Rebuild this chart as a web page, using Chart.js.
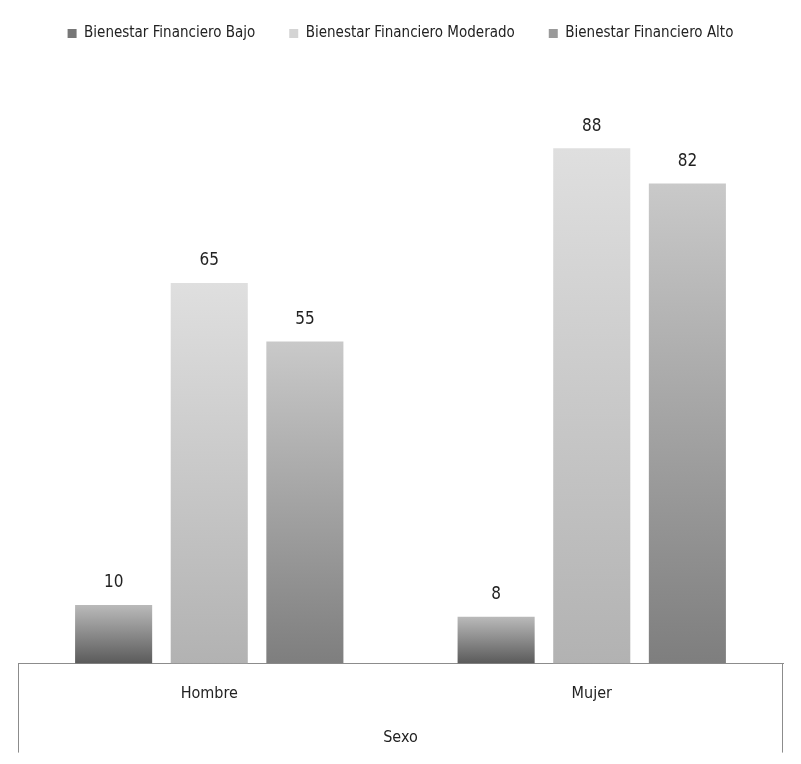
<!DOCTYPE html>
<html>
<head>
<meta charset="utf-8">
<script src="https://cdn.jsdelivr.net/npm/chart.js@4/dist/chart.umd.min.js"></script>
<style>
  html, body { margin:0; padding:0; background:#fff; }
  #wrap { width:801px; height:764px; }
</style>
</head>
<body>
<div id="wrap"><canvas id="chart" width="801" height="764"></canvas></div>
<script>
var categories = ['Hombre', 'Mujer'];
var seriesNames = ['Bienestar Financiero Bajo', 'Bienestar Financiero Moderado', 'Bienestar Financiero Alto'];
var bajo = [10, 8];
var moderado = [65, 88];
var alto = [55, 82];
var axisTitle = 'Sexo';

// top / bottom colour of each series gradient, and legend swatch colour
var gradTop = ['#bababa', '#dfdfdf', '#c9c9c9'];
var gradBot = ['#5a5a5a', '#b2b2b2', '#7e7e7e'];
var swatch = ['#777777', '#d4d4d4', '#9a9a9a'];

var FONT = "'DejaVu Sans Condensed', 'Liberation Sans', sans-serif";

function barFill(i){
  return function(c){
    var chart = c.chart;
    if(!chart.chartArea || c.raw === undefined) return swatch[i];
    var y = chart.scales.y;
    var t = y.getPixelForValue(c.raw), b = y.getPixelForValue(0);
    var g = chart.ctx.createLinearGradient(0, t, 0, b);
    g.addColorStop(0, gradTop[i]);
    g.addColorStop(1, gradBot[i]);
    return g;
  };
}

var valueLabels = {
  id:'valueLabels',
  afterDatasetsDraw: function(chart){
    var ctx = chart.ctx;
    ctx.save();
    ctx.font = '17px ' + FONT;
    ctx.fillStyle = '#222';
    ctx.textAlign = 'center';
    ctx.textBaseline = 'middle';
    chart.data.datasets.forEach(function(ds, i){
      chart.getDatasetMeta(i).data.forEach(function(bar, j){
        ctx.fillText(ds.data[j], bar.x, bar.y - 22);
      });
    });
    ctx.restore();
  }
};

var axisBox = {
  id:'axisBox',
  afterDraw: function(chart){
    var a = chart.chartArea, ctx = chart.ctx;
    ctx.save();
    ctx.strokeStyle = '#8c8c8c';
    ctx.lineWidth = 1;
    ctx.beginPath();
    ctx.moveTo(a.left + 0.5, a.bottom); ctx.lineTo(a.left + 0.5, a.bottom + 89);
    ctx.moveTo(a.right - 0.5, a.bottom); ctx.lineTo(a.right - 0.5, a.bottom + 89);
    ctx.stroke();
    ctx.restore();
  }
};

var legendGap = {
  id:'legendGap',
  beforeInit: function(chart){
    var fit = chart.legend.fit;
    chart.legend.fit = function(){ fit.bind(chart.legend)(); this.height += 27; };
  }
};

new Chart(document.getElementById('chart').getContext('2d'), {
  type:'bar',
  data:{
    labels:categories,
    datasets:[
      { label:seriesNames[0], data:bajo, backgroundColor:barFill(0) },
      { label:seriesNames[1], data:moderado, backgroundColor:barFill(1) },
      { label:seriesNames[2], data:alto, backgroundColor:barFill(2) }
    ]
  },
  options:{
    responsive:false,
    animation:false,
    layout:{ padding:{ left:18, right:18, top:-8, bottom:11 } },
    datasets:{ bar:{ categoryPercentage:0.75, barPercentage:0.806 } },
    plugins:{
      legend:{
        position:'top',
        labels:{
          font:{ family:FONT, size:15 },
          color:'#222',
          boxWidth:9, boxHeight:9,
          padding:34,
          generateLabels:function(chart){
            return seriesNames.map(function(n, i){
              return { text:n, fillStyle:swatch[i], strokeStyle:swatch[i], lineWidth:0, datasetIndex:i, fontColor:'#222' };
            });
          }
        }
      },
      tooltip:{ enabled:false }
    },
    scales:{
      x:{
        grid:{ display:false },
        border:{ display:true, color:'#8c8c8c' },
        ticks:{ font:{ family:FONT, size:16 }, color:'#222', padding:13 },
        title:{ display:true, text:axisTitle, font:{ family:FONT, size:16 }, color:'#222', padding:{ top:11, bottom:6 } }
      },
      y:{ display:false, min:0, max:100 }
    }
  },
  plugins:[valueLabels, axisBox, legendGap]
});
</script>
</body>
</html>
